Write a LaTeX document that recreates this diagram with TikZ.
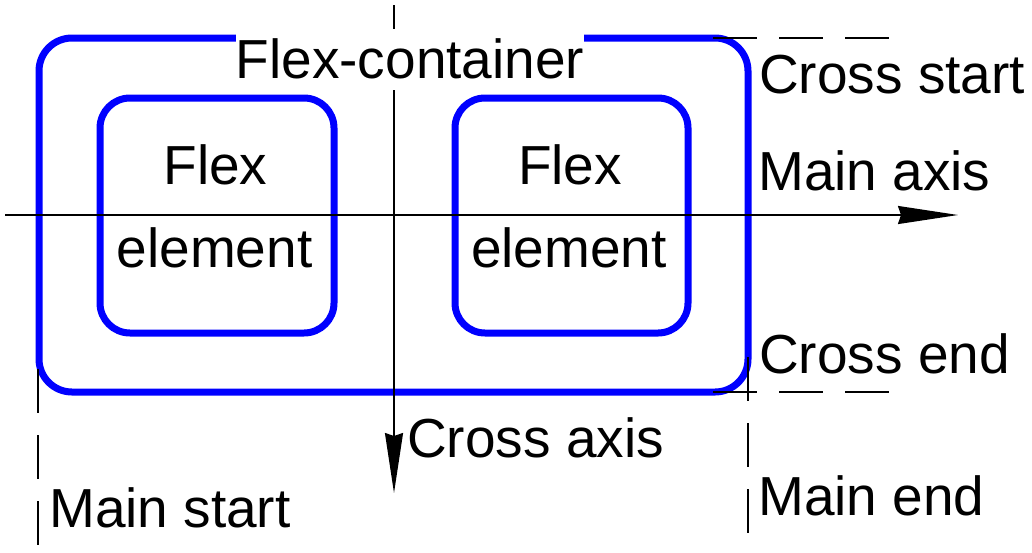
\documentclass[tikz,border=0pt]{standalone}
\usepackage{fontspec}
\setmainfont{Liberation Sans}
\usetikzlibrary{arrows.meta}
\definecolor{boxblue}{RGB}{0,0,255}
\begin{document}
\begin{tikzpicture}[x=1pt,y=-1pt,
  lbl/.style={inner sep=0pt, font=\fontsize{55}{60}\selectfont},
  bluebox/.style={draw=boxblue, line width=7pt, rectangle, inner sep=0pt},
  axisline/.style={line width=1.6pt, -{Stealth[length=60pt,width=18pt,inset=3pt]}},
  guide/.style={line width=1.5pt, dash pattern=on 44pt off 22pt}]
\useasboundingbox (0,0) rectangle (1032,552);

% boxes
\node[bluebox, rounded corners=33pt, minimum width=709pt, minimum height=354pt] (container) at (393.5,215) {};
\node[bluebox, rounded corners=30pt, minimum width=234pt, minimum height=235pt] (item1) at (217,215.5) {};
\node[bluebox, rounded corners=30pt, minimum width=233pt, minimum height=235pt] (item2) at (571.5,215.5) {};

% guides
\coordinate (gt1) at (713,38);  \coordinate (gt2) at (891,38);
\coordinate (gb1) at (713,392); \coordinate (gb2) at (891,392);
\coordinate (gr1) at (748,357); \coordinate (gr2) at (748,534);
\coordinate (gl1) at (38,369);  \coordinate (gl2) at (38,546);
\draw[guide] (gt1) -- (gt2);
\draw[guide] (gb1) -- (gb2);
\draw[guide] (gr1) -- (gr2);
\draw[guide] (gl1) -- (gl2);

% axes
\coordinate (mainA) at (5,215);  \coordinate (mainB) at (958,215);
\coordinate (crossA) at (394,5); \coordinate (crossB) at (394,493);
\draw[axisline] (mainA) -- (mainB);
\draw[axisline] (crossA) -- (crossB);

% texts
\node[lbl, fill=white, text height=49pt, text depth=12pt, anchor=base] (title) at (410,78) {Flex-container};
\node[lbl, anchor=base] (f1) at (215.5,184) {Flex};
\node[lbl, anchor=base] (e1) at (214.5,267) {element};
\node[lbl, anchor=base] (f2) at (570,184) {Flex};
\node[lbl, anchor=base] (e2) at (569,267) {element};
\node[lbl, anchor=base west] (cs) at (759,93) {Cross start};
\node[lbl, anchor=base west] (ma) at (758,190) {Main axis};
\node[lbl, anchor=base west] (ce) at (759,373) {Cross end};
\node[lbl, anchor=base west] (me) at (758,515) {Main end};
\node[lbl, anchor=base west] (ms) at (49,527) {Main start};
\node[lbl, anchor=base west] (ca) at (407,457) {Cross axis};
\end{tikzpicture}
\end{document}
